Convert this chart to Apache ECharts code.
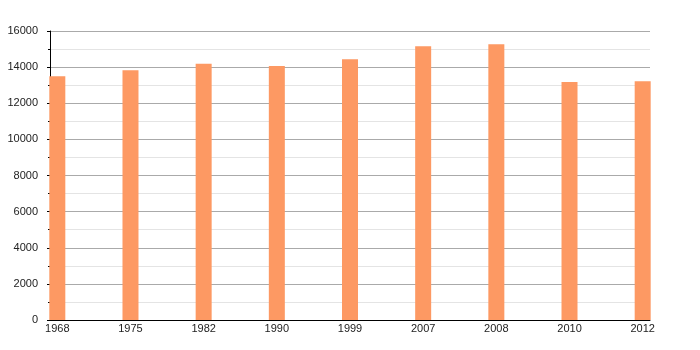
<!DOCTYPE html>
<html>
<head>
<meta charset="utf-8">
<script src="https://cdn.jsdelivr.net/npm/echarts@6/dist/echarts.min.js"></script>
<style>html,body{margin:0;padding:0;background:#fff}#c{width:700px;height:350px}</style>
</head>
<body>
<div id="c"></div>
<script>
const years = ['1968','1975','1982','1990','1999','2007','2008','2010','2012'];
const population = [13500, 13830, 14180, 14060, 14440, 15150, 15260, 13170, 13220];
const yTicks = [0, 2000, 4000, 6000, 8000, 10000, 12000, 14000, 16000];

const chart = echarts.init(document.getElementById('c'), null, {renderer: 'canvas'});
const font = 'Liberation Sans, Arial, sans-serif';
chart.setOption({
  animation: false,
  backgroundColor: '#fff',
  grid: {left: 50, right: 50, top: 31, bottom: 30, containLabel: false},
  xAxis: {
    type: 'value',
    min: -0.1,
    max: 8.1,
    axisLine: {show: true, onZero: false, lineStyle: {color: '#000', width: 1}},
    axisTick: {show: false},
    splitLine: {show: false},
    axisLabel: {
      customValues: years.map((_, i) => i),
      formatter: v => years[Math.round(v)],
      color: '#222', fontSize: 11, fontFamily: font, margin: 3
    }
  },
  yAxis: {
    type: 'value',
    min: yTicks[0],
    max: yTicks[yTicks.length - 1],
    interval: 2000,
    axisLine: {show: true, onZero: false, lineStyle: {color: '#000', width: 1}},
    axisTick: {show: true, length: 3, lineStyle: {color: '#000'}},
    minorTick: {show: true, splitNumber: 2, length: 2, lineStyle: {color: '#000'}},
    splitLine: {show: true, lineStyle: {color: '#aaa', width: 1}},
    minorSplitLine: {show: true, lineStyle: {color: '#e4e4e4', width: 1}},
    axisLabel: {color: '#222', fontSize: 11, fontFamily: font, margin: 12, formatter: v => String(v)}
  },
  series: [{
    type: 'bar',
    data: population.map((v, i) => [i, v]),
    barWidth: 16,
    itemStyle: {color: '#fd9963'}
  }]
});
</script>
</body>
</html>
